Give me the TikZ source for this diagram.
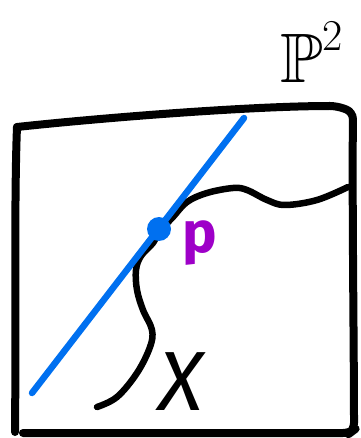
\documentclass[tikz,border=0pt]{standalone}
\usepackage{amssymb}
\usepackage{fontspec}
\setsansfont{Fira Sans}
\definecolor{lineblue}{RGB}{0,112,240}
\definecolor{pmag}{RGB}{158,0,200}
\tikzset{
  boxline/.style={line width=8pt, line cap=round, line join=round},
  curveline/.style={line width=6.5pt, line cap=round, line join=round},
  blueline/.style={line width=6.5pt, line cap=round, draw=lineblue},
  ptdot/.style={circle, fill=lineblue, minimum size=24pt, inner sep=0pt},
  lbl/.style={inner sep=0pt, font=\sffamily}
}
\begin{document}
\begin{tikzpicture}[x=1pt,y=-1pt]
\useasboundingbox (0,0) rectangle (360,438);
% box corners
\coordinate (tl) at (17,127);
\coordinate (tr) at (353,112);
\coordinate (br) at (354,430);
\coordinate (bl) at (15,432);
\coordinate (bs) at (23,433);
\draw[boxline, rounded corners=7pt] (tl) .. controls (100,118) and (250,106) .. (337,106)
  -- (tr) .. controls (352,200) and (354,350) .. (br) -- (350,433) -- (bs);
\draw[boxline] (tl) .. controls (14,200) and (16,350) .. (bl);
% curve X
\draw[curveline] plot[smooth, tension=0.6] coordinates {(97,407) (117,397) (137,373) (150,347) (152,330) (143,310) (137,290) (136,270) (141,256) (153,243) (159,232) (173,217) (187,202) (207,193) (233,188) (247,190) (267,200) (285,205) (317,200) (348,187)};
% blue line
\coordinate (la) at (32,393);
\coordinate (lb) at (244,118);
\draw[blueline] (la) -- (lb);
\node[ptdot] (p) at (159,229) {};
% labels
\node[lbl, text=pmag, font=\sffamily\bfseries\fontsize{58}{58}\selectfont] (plbl) at (200,243) {p};
\node[lbl, font=\sffamily\itshape\fontsize{84}{84}\selectfont] (xlbl) at (181,382) {X};
\node[lbl, anchor=base west, font=\fontsize{70}{70}\selectfont] (P2) at (280,83) {$\mathbb{P}$\raisebox{32pt}{\fontsize{44}{44}\selectfont 2}};
\end{tikzpicture}
\end{document}
